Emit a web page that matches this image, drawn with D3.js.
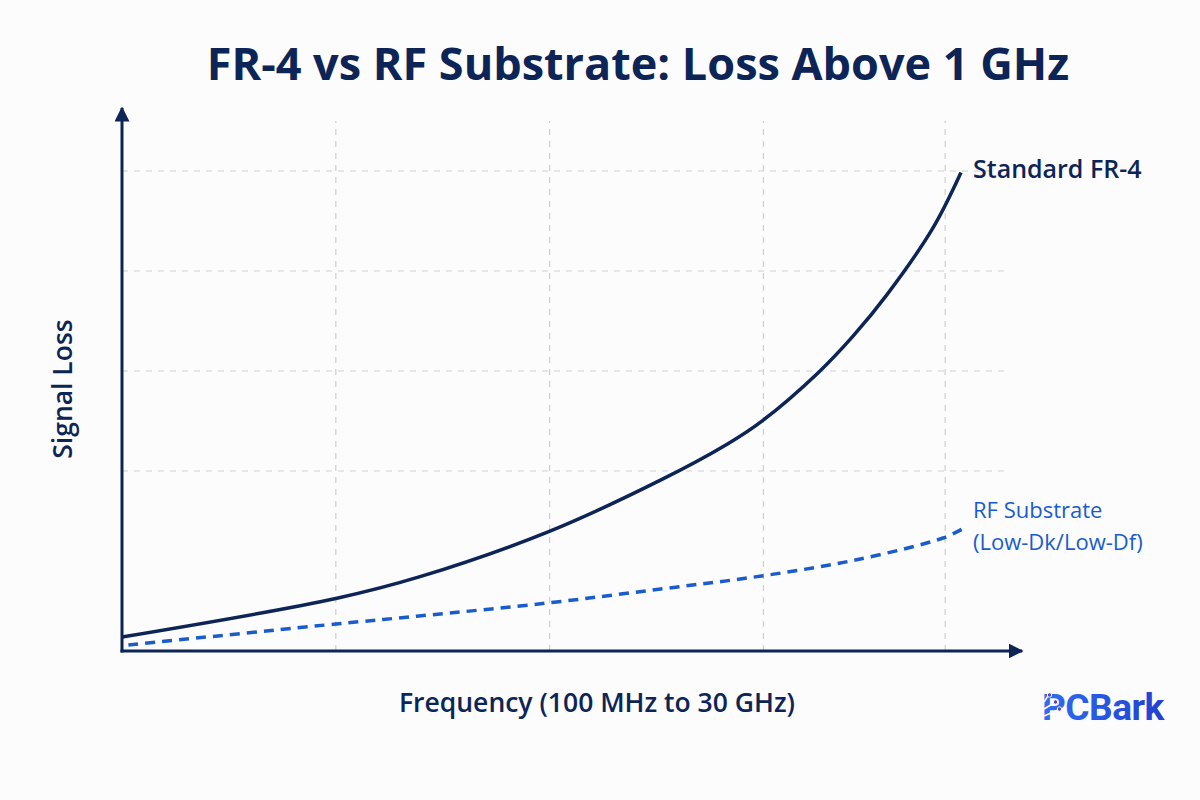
<!DOCTYPE html>
<html>
<head>
<meta charset="utf-8">
<script src="https://cdn.jsdelivr.net/npm/d3@7"></script>
<style>
  body { margin: 0; background: #fcfcfc; }
  svg { display: block; font-family: "Open Sans", Roboto, sans-serif; }
</style>
</head>
<body>
<div id="chart"></div>
<script>
// Data (x in frequency steps along the axis, y in relative loss units)
const fr4X = [0, 1.0, 1.394, 1.993, 2.516, 2.83, 2.993, 3.255, 3.419, 3.578, 3.793, 3.924];
const fr4Y = [0.14, 0.525, 0.743, 1.191, 1.706, 2.068, 2.299, 2.781, 3.149, 3.564, 4.231, 4.785];
const rfX = [0.03, 1.0, 1.39, 1.99, 2.52, 2.99, 3.43, 3.84, 3.93];
const rfY = [0.06, 0.27, 0.35, 0.48, 0.62, 0.75, 0.91, 1.13, 1.22];
const xGrid = [1, 2, 3, 3.85];
const yGrid = [1.8, 2.8, 3.8, 4.8];

const title = "FR-4 vs RF Substrate: Loss Above 1 GHz";
const xLabel = "Frequency (100 MHz to 30 GHz)";
const yLabel = "Signal Loss";

const W = 1200, H = 800;
const navy = "#0d2457";
const blue = "#1a5ccc";

const svg = d3.select("#chart")
    .append("svg")
    .attr("width", W)
    .attr("height", H);

svg.append("rect").attr("width", W).attr("height", H).attr("fill", "#fcfcfc");

// Scales
const xScale = d3.scaleLinear().domain([0, 4.2]).range([122, 1020]);
const yScale = d3.scaleLinear().domain([0, 5.4]).range([651, 111]);

// Grid
svg.append("g")
    .selectAll("line")
    .data(xGrid)
    .join("line")
    .attr("x1", d => xScale(d)).attr("x2", d => xScale(d))
    .attr("y1", yScale(0)).attr("y2", yScale(5.3))
    .attr("stroke", "#cfcfcf")
    .attr("stroke-width", 1.2)
    .attr("stroke-dasharray", "6,6");

svg.append("g")
    .selectAll("line")
    .data(yGrid)
    .join("line")
    .attr("x1", xScale(0)).attr("x2", xScale(4.15))
    .attr("y1", d => yScale(d)).attr("y2", d => yScale(d))
    .attr("stroke", "#cfcfcf")
    .attr("stroke-width", 1.2)
    .attr("stroke-dasharray", "6,6");

// Axes with arrowheads
const defs = svg.append("defs");
defs.append("marker")
    .attr("id", "arrow")
    .attr("viewBox", "0 0 10 10")
    .attr("refX", 9).attr("refY", 5)
    .attr("markerWidth", 5).attr("markerHeight", 5)
    .attr("markerUnits", "strokeWidth")
    .attr("orient", "auto")
    .append("path")
    .attr("d", "M0,0 L10,5 L0,10 Z")
    .attr("fill", navy);

const grad = defs.append("linearGradient")
    .attr("id", "logoGrad")
    .attr("x1", "0%").attr("x2", "100%");
grad.append("stop").attr("offset", "0%").attr("stop-color", "#2f6df2");
grad.append("stop").attr("offset", "100%").attr("stop-color", "#2140cf");

svg.append("line")
    .attr("x1", xScale(0)).attr("x2", xScale(0))
    .attr("y1", yScale(0) + 1.5).attr("y2", yScale(5.43))
    .attr("stroke", navy).attr("stroke-width", 3)
    .attr("marker-end", "url(#arrow)");

svg.append("line")
    .attr("x1", xScale(0) - 1.5).attr("x2", xScale(4.21))
    .attr("y1", yScale(0)).attr("y2", yScale(0))
    .attr("stroke", navy).attr("stroke-width", 3)
    .attr("marker-end", "url(#arrow)");

// Lines
const line = d3.line()
    .x(d => xScale(d[0]))
    .y(d => yScale(d[1]))
    .curve(d3.curveCatmullRom.alpha(0.5));

svg.append("path")
    .datum(d3.zip(rfX, rfY))
    .attr("d", line)
    .attr("fill", "none")
    .attr("stroke", blue)
    .attr("stroke-width", 3.5)
    .attr("stroke-dasharray", "10,7");

svg.append("path")
    .datum(d3.zip(fr4X, fr4Y))
    .attr("d", line)
    .attr("fill", "none")
    .attr("stroke", navy)
    .attr("stroke-width", 3.5);

// Line labels
svg.append("text")
    .attr("x", 973).attr("y", 178)
    .attr("fill", navy)
    .attr("font-size", 25)
    .attr("font-weight", 600)
    .text("Standard FR-4");

const rfLabel = svg.append("text")
    .attr("x", 973).attr("y", 518)
    .attr("fill", blue)
    .attr("font-size", 22)
    .attr("font-weight", 500);
rfLabel.append("tspan").attr("x", 973).text("RF Substrate");
rfLabel.append("tspan").attr("x", 973).attr("dy", 32).text("(Low-Dk/Low-Df)");

// Title
svg.append("text")
    .attr("x", 638).attr("y", 80)
    .attr("text-anchor", "middle")
    .attr("fill", navy)
    .attr("font-size", 45)
    .attr("font-weight", 700)
    .text(title);

// Axis labels
svg.append("text")
    .attr("x", 597).attr("y", 712)
    .attr("text-anchor", "middle")
    .attr("fill", navy)
    .attr("font-size", 26.5)
    .attr("font-weight", 600)
    .text(xLabel);

svg.append("text")
    .attr("transform", "translate(72,389) rotate(-90)")
    .attr("text-anchor", "middle")
    .attr("fill", navy)
    .attr("font-size", 26.5)
    .attr("font-weight", 600)
    .text(yLabel);

// Logo
const logo = svg.append("g").attr("transform", "translate(1042,720)");
logo.append("text")
    .attr("x", 0).attr("y", 0)
    .attr("fill", "url(#logoGrad)")
    .attr("font-family", "Roboto, sans-serif")
    .attr("font-size", 37)
    .attr("font-weight", 700)
    .attr("letter-spacing", -0.5)
    .text("PCBark");
// circuit traces across the "P"
const traces = [[-24, 6], [-17, 12], [-10, 16]];
logo.selectAll(".trace")
    .data(traces)
    .join("path")
    .attr("d", d => `M${2},${d[0] + 6} L${d[1]},${d[0]}`)
    .attr("stroke", "#fcfcfc")
    .attr("stroke-width", 1.5)
    .attr("fill", "none");
logo.selectAll(".node")
    .data(traces)
    .join("circle")
    .attr("cx", d => d[1] + 1.5).attr("cy", d => d[0] - 1)
    .attr("r", 2.2)
    .attr("fill", "#5a3fd0")
    .attr("stroke", "#fcfcfc")
    .attr("stroke-width", 1);
</script>
</body>
</html>
